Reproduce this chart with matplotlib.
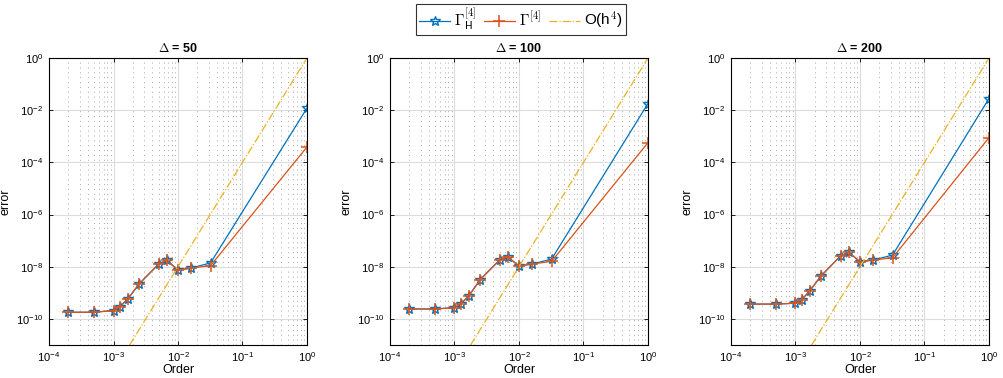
import matplotlib
matplotlib.use("Agg")
import matplotlib.pyplot as plt
import numpy as np

plt.rcParams['font.family'] = ['Liberation Sans', 'DejaVu Sans']
plt.rcParams['mathtext.fontset'] = 'cm'

# step sizes (shared by all panels)
h = [2e-4, 5e-4, 1e-3, 1.25e-3, 1.67e-3, 2.5e-3, 5e-3, 6.67e-3, 1e-2, 1.6e-2, 3.2e-2, 1.0]

deltas = [50, 100, 200]

err_H = [
    [1.8e-10, 1.8e-10, 2.1e-10, 2.9e-10, 5.9e-10, 2.2e-9, 1.26e-8, 1.8e-8, 7.4e-9, 8.9e-9, 1.4e-8, 1.2e-2],
    [2.4e-10, 2.4e-10, 2.7e-10, 3.8e-10, 7.6e-10, 3.2e-9, 1.8e-8, 2.4e-8, 1.07e-8, 1.27e-8, 1.96e-8, 1.8e-2],
    [3.7e-10, 3.7e-10, 4.0e-10, 5.5e-10, 1.2e-9, 4.5e-9, 2.6e-8, 3.6e-8, 1.55e-8, 1.8e-8, 2.8e-8, 2.8e-2],
]
err = [
    [1.8e-10, 1.8e-10, 2.1e-10, 2.9e-10, 5.9e-10, 2.2e-9, 1.26e-8, 1.8e-8, 7.4e-9, 8.9e-9, 1.1e-8, 3.9e-4],
    [2.4e-10, 2.4e-10, 2.7e-10, 3.8e-10, 7.6e-10, 3.2e-9, 1.8e-8, 2.4e-8, 1.07e-8, 1.27e-8, 1.6e-8, 5.7e-4],
    [3.7e-10, 3.7e-10, 4.0e-10, 5.5e-10, 1.2e-9, 4.5e-9, 2.6e-8, 3.6e-8, 1.55e-8, 1.8e-8, 2.2e-8, 8.9e-4],
]

blue = '#0072BD'
red = '#D95319'
yellow = '#EDB120'

fig = plt.figure(figsize=(10.04, 3.78), dpi=100)
lefts = [49 / 1004, 390 / 1004, 731 / 1004]
hv = np.array(h)

handles = None
for i, d in enumerate(deltas):
    ax = fig.add_axes([lefts[i], 33 / 378, 258 / 1004, 287 / 378])
    l1, = ax.loglog(h, err_H[i], '-', color=blue, lw=0.9, marker='*', ms=7,
                    mfc='none', mew=1.0)
    l2, = ax.loglog(h, err[i], '-', color=red, lw=0.9, marker='+', ms=8, mew=1.1)
    l3, = ax.loglog(h, hv ** 4, '-.', color=yellow, lw=0.9)
    handles = [l1, l2, l3]
    ax.set_xlim(1e-4, 1)
    ax.set_ylim(1e-11, 1)
    ax.set_xticks([1e-4, 1e-3, 1e-2, 1e-1, 1])
    ax.set_yticks([1e-10, 1e-8, 1e-6, 1e-4, 1e-2, 1])
    ax.yaxis.set_minor_locator(matplotlib.ticker.NullLocator())
    ax.grid(True, which='major', color='#dcdcdc', lw=0.8)
    ax.grid(True, which='minor', axis='x', color='#a8a8a8', ls=(0, (1, 4)), lw=0.7)
    ax.set_axisbelow(True)
    ax.tick_params(which='both', direction='in', top=True, right=True,
                   labelsize=8, length=3, width=0.6, pad=4)
    ax.tick_params(which='minor', length=0)
    for s in ax.spines.values():
        s.set_linewidth(0.8)
    ax.set_xlabel('Order', fontsize=9, labelpad=0)
    ax.set_ylabel('error', fontsize=9, labelpad=3)
    ax.set_title(r'$\Delta$ = %d' % d, fontsize=9, fontweight='bold', pad=4)

leg = fig.legend(handles,
                 [r'$\Gamma^{\mathsf{[4]}}_{\mathsf{H}}$', r'$\Gamma^{\mathsf{[4]}}$', r'O(h$^4$)'],
                 loc='upper center', bbox_to_anchor=(0.519, 0.99), ncol=3,
                 fontsize=11, frameon=True, fancybox=False, edgecolor='black',
                 handlelength=2.0, columnspacing=0.5, handletextpad=0.3,
                 borderpad=0.2, borderaxespad=0)
leg.get_frame().set_linewidth(0.8)

fig.savefig('out.png', dpi=100)
